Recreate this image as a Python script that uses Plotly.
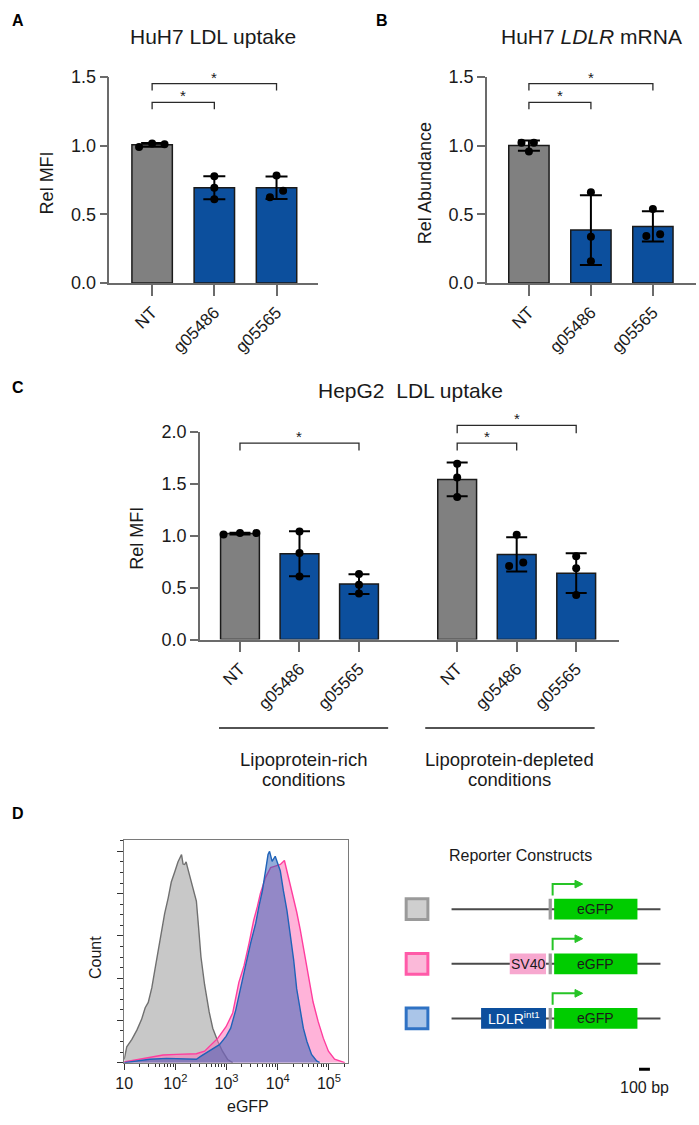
import numpy as np
import plotly.graph_objects as go

W, H = 699, 1125
FONT = "Liberation Sans, Arial, sans-serif"
TXT = "#1a1a1a"
AX = "#6b6b6b"
GRAY_BAR = "#808080"
BLUE_BAR = "#0c4f9d"

# ---------------- data ----------------
categories = ["NT", "g05486", "g05565"]

# Panel A: HuH7 LDL uptake (Rel MFI), replicate points
a_nt = [0.990, 1.015, 1.010]
a_g05486 = [0.776, 0.693, 0.609]
a_g05565 = [0.783, 0.671, 0.624]

# Panel B: HuH7 LDLR mRNA (Rel Abundance)
b_nt = [1.021, 1.021, 0.957]
b_g05486 = [0.660, 0.336, 0.159]
b_g05565 = [0.538, 0.343, 0.355]

# Panel C: HepG2 LDL uptake (Rel MFI)
c_rich_nt = [1.010, 1.025, 1.025]
c_rich_g05486 = [1.040, 0.833, 0.607]
c_rich_g05565 = [0.632, 0.528, 0.443]
c_dep_nt = [1.692, 1.560, 1.371]
c_dep_g05486 = [1.009, 0.708, 0.742]
c_dep_g05565 = [0.802, 0.686, 0.428]
c_groups = ["Lipoprotein-rich", "Lipoprotein-depleted"]

# Panel D: flow histograms, eGFP (log10) vs count (% of max)
gray_log = [1.00, 1.05, 1.15, 1.25, 1.34, 1.41, 1.47, 1.54, 1.60, 1.67, 1.73, 1.79, 1.86,
            1.92, 1.99, 2.05, 2.12, 2.15, 2.18, 2.21, 2.23, 2.31, 2.41, 2.45, 2.50, 2.57,
            2.66, 2.73, 2.83, 2.92, 3.02, 3.12]
gray_cnt = [1.5, 7.5, 11, 15.5, 20.5, 26, 28.5, 35.5, 44, 54, 63, 70.5, 78, 85.5, 90.5, 95,
            98.5, 94, 93.8, 95, 93, 86, 76.5, 65, 50, 37, 24, 16.3, 10, 5.4, 1.5, 0]
pink_log = [1.00, 1.50, 1.76, 2.02, 2.41, 2.57, 2.70, 2.83, 2.99, 3.12, 3.24, 3.34, 3.44,
            3.53, 3.60, 3.66, 3.76, 3.86, 3.95, 4.05, 4.13, 4.18, 4.24, 4.31, 4.37, 4.44,
            4.53, 4.63, 4.69, 4.79, 4.89, 4.99, 5.11, 5.31]
pink_cnt = [0.3, 2.3, 3.6, 3.9, 4.2, 5.4, 8.5, 11.6, 17, 23.5, 38, 45.8, 56.6, 67.4, 73.7,
            80, 87.6, 92.3, 93, 93.8, 95.7, 90.7, 84.5, 76.7, 71.3, 62.8, 50.4, 38, 28.7,
            19.4, 11.6, 5.4, 1.6, 0]
blue_log = [1.00, 1.50, 1.83, 2.15, 2.41, 2.50, 2.66, 2.86, 2.99, 3.08, 3.18, 3.28, 3.37,
            3.47, 3.57, 3.63, 3.70, 3.76, 3.81, 3.84, 3.89, 3.95, 4.01, 4.05, 4.11, 4.18,
            4.24, 4.31, 4.37, 4.44, 4.50, 4.57, 4.66, 4.76, 4.82]
blue_cnt = [0, 1.6, 2.0, 1.9, 1.6, 3.1, 5.4, 8.5, 12.4, 16.3, 25, 36.5, 45.8, 56.6, 66, 73.7,
            81.4, 90.7, 98.5, 100, 95.3, 97.7, 93, 90.7, 81.4, 72, 61.3, 48.8, 34.9, 24,
            16.3, 10, 3.9, 0.8, 0]
hist_ticks = [10, 100, 1000, 10000, 100000]
hist_ticktext = ["10", "10<sup>2</sup>", "10<sup>3</sup>", "10<sup>4</sup>", "10<sup>5</sup>"]

# Reporter constructs (bp)
construct_names = ["empty", "SV40", "LDLRint1"]
backbone_bp = [803, 2727]
egfp_bp = [1748, 2515]
tss_bp = [1697, 1727]
promoter_bp = [None, [1339, 1673], [1075, 1673]]
promoter_labels = [None, "SV40", "LDLR<sup>int1</sup>"]
scale_bp = [2530, 2630]

# ---------------- layout helpers ----------------
def xp(px):
    return px / W

def yp(py):
    return 1 - py / H

fig = go.Figure()

def bar_panel(xa, ya, xs, groups, colors, jit, width, capw):
    means = [float(np.mean(g)) for g in groups]
    sds = [float(np.std(g, ddof=1)) for g in groups]
    fig.add_trace(go.Bar(
        x=xs, y=means, width=width, xaxis=xa, yaxis=ya,
        marker=dict(color=colors, line=dict(color="#1a1a1a", width=1.5)),
        error_y=dict(type="data", array=sds, color="black", thickness=2, width=capw),
        hoverinfo="skip"))
    dx, dy = [], []
    for x, g, j in zip(xs, groups, jit):
        for v, o in zip(g, j):
            dx.append(x + o)
            dy.append(v)
    fig.add_trace(go.Scatter(x=dx, y=dy, mode="markers", xaxis=xa, yaxis=ya,
                             marker=dict(color="black", size=8), hoverinfo="skip",
                             cliponaxis=False))

a_jit = [[-0.21, 0.0, 0.2], [0, 0, 0], [0, 0.106, -0.106]]
b_jit = [[-0.12, 0.08, 0.0], [0, 0, 0], [0, -0.106, 0.117]]
c_jit = [[-0.276, 0, 0.276], [0, 0, 0], [0, 0, 0], [0, 0, 0], [0, -0.127, 0.11], [0, 0, 0]]
ab_pos = [0, 1, 2]
c_pos = [0, 1, 2, 3.65, 4.65, 5.65]
cols3 = [GRAY_BAR, BLUE_BAR, BLUE_BAR]

bar_panel("x", "y", ab_pos, [a_nt, a_g05486, a_g05565], cols3, a_jit, 0.65, 11)
bar_panel("x2", "y2", ab_pos, [b_nt, b_g05486, b_g05565], cols3, b_jit, 0.65, 11)
bar_panel("x3", "y3", c_pos,
          [c_rich_nt, c_rich_g05486, c_rich_g05565, c_dep_nt, c_dep_g05486, c_dep_g05565],
          cols3 + cols3, c_jit, 0.652, 10.5)

# registration traces for overlay/diagram axes
fig.add_trace(go.Scatter(x=[], y=[], xaxis="x4", yaxis="y4"))
fig.add_trace(go.Scatter(x=[], y=[], xaxis="x6", yaxis="y6"))

# histograms
for lg, cnt, fillc, linec in [
        (gray_log, gray_cnt, "rgba(200,200,200,1)", "#707070"),
        (pink_log, pink_cnt, "rgba(255,110,182,0.52)", "#ff3d9e"),
        (blue_log, blue_cnt, "rgba(48,96,182,0.52)", "#1f63b8")]:
    fig.add_trace(go.Scatter(x=[10 ** v for v in lg], y=cnt, xaxis="x5", yaxis="y5",
                             mode="lines", fill="tozeroy", fillcolor=fillc,
                             line=dict(color=linec, width=1.4), hoverinfo="skip"))

shapes = []
annotations = []

def ann(text, x, y, xref="paper", yref="paper", size=18, color=TXT, angle=0,
        xanchor="center", yanchor="middle", bold=False, yshift=0):
    annotations.append(dict(text=("<b>%s</b>" % text) if bold else text, x=x, y=y,
                            xref=xref, yref=yref, showarrow=False, textangle=angle,
                            xanchor=xanchor, yanchor=yanchor, yshift=yshift,
                            font=dict(family=FONT, size=size, color=color)))

def bracket(xref, yref, x0, x1, y, leg):
    shapes.append(dict(type="path", xref=xref, yref=yref,
                       path="M%f,%f L%f,%f L%f,%f L%f,%f" % (x0, y - leg, x0, y, x1, y, x1, y - leg),
                       line=dict(color="#2a2a2a", width=1.3)))
    ann("*", (x0 + x1) / 2, y, xref=xref, yref=yref, size=15, yanchor="bottom", yshift=-4)

# significance brackets
for xr, yr in [("x", "y"), ("x2", "y2")]:
    bracket(xr, yr, 0, 1, 1.314, 0.05)
    bracket(xr, yr, 0, 2, 1.45, 0.05)
bracket("x4", "y4", 0, 2, 1.89, 0.072)
bracket("x4", "y4", 3.65, 4.65, 1.89, 0.072)
bracket("x4", "y4", 3.65, 5.65, 2.06, 0.076)

# group lines + labels under C
for (g0, g1), name in zip([(-0.353, 2.49), (3.113, 5.96)], c_groups):
    shapes.append(dict(type="line", xref="x4", yref="y4", x0=g0, x1=g1, y0=-0.85, y1=-0.85,
                       line=dict(color="#1a1a1a", width=1.5)))
    ann(name, (g0 + g1) / 2, -1.15, xref="x4", yref="y4", size=18.5)
    ann("conditions", (g0 + g1) / 2, -1.345, xref="x4", yref="y4", size=18.5)

# titles, panel letters, axis titles
ann("HuH7 LDL uptake", xp(207), yp(27), size=21)
ann("HuH7 <i>LDLR</i> mRNA", xp(589.8), yp(27), size=21)
ann("HepG2\u00a0 LDL uptake", xp(406.7), yp(387), size=21)
ann("A", xp(9), yp(11), size=16, bold=True, color="black")
ann("B", xp(378), yp(11), size=16, bold=True, color="black")
ann("C", xp(9), yp(384), size=16, bold=True, color="black")
ann("D", xp(9), yp(818), size=16, bold=True, color="black")
ann("Rel MFI", xp(38), yp(176), size=18, angle=-90)
ann("Rel Abundance", xp(421.7), yp(176), size=18, angle=-90)
ann("Rel MFI", xp(130), yp(538), size=18, angle=-90)
ann("Count", xp(88.3), yp(965), size=16, angle=-90)
ann("eGFP", xp(242), yp(1116.7), size=16)

# reporter constructs diagram (x: bp, y: row)
ann("Reporter Constructs", 1439, -0.986, xref="x6", yref="y6", size=16)
sq_fill = ["#cfcfcf", "#fbb9d9", "#aac5e8"]
sq_line = ["#9a9a9a", "#ff5aa8", "#2f72c4"]
GREEN = "#00cc00"
ARROW = "#26c426"
for r in range(3):
    shapes.append(dict(type="rect", xref="x6", yref="y6", x0=385, x1=585, y0=r - 0.19, y1=r + 0.19,
                       fillcolor=sq_fill[r], line=dict(color=sq_line[r], width=3)))
    shapes.append(dict(type="line", xref="x6", yref="y6", x0=backbone_bp[0], x1=backbone_bp[1],
                       y0=r, y1=r, line=dict(color="#4a4a4a", width=2)))
    if promoter_bp[r] is not None:
        p0, p1 = promoter_bp[r]
        shapes.append(dict(type="rect", xref="x6", yref="y6", x0=p0, x1=p1, y0=r - 0.19, y1=r + 0.19,
                           fillcolor="#f7a8cf" if r == 1 else BLUE_BAR, line=dict(width=0)))
        ann(promoter_labels[r], (p0 + p1) / 2, r, xref="x6", yref="y6", size=14,
            color="#1a1a1a" if r == 1 else "white")
    shapes.append(dict(type="rect", xref="x6", yref="y6", x0=tss_bp[0], x1=tss_bp[1],
                       y0=r - 0.19, y1=r + 0.19, fillcolor="#9a9a9a", line=dict(width=0)))
    shapes.append(dict(type="rect", xref="x6", yref="y6", x0=egfp_bp[0], x1=egfp_bp[1],
                       y0=r - 0.19, y1=r + 0.19, fillcolor=GREEN, line=dict(width=0)))
    ann("eGFP", (egfp_bp[0] + egfp_bp[1]) / 2, r, xref="x6", yref="y6", size=14)
    # transcription start arrow
    ya = r - 0.46
    shapes.append(dict(type="path", xref="x6", yref="y6",
                       path="M1734,%f L1734,%f L1945,%f" % (r - 0.25, ya, ya),
                       line=dict(color=ARROW, width=2)))
    shapes.append(dict(type="path", xref="x6", yref="y6",
                       path="M1940,%f L2010,%f L1940,%f Z" % (ya - 0.07, ya, ya + 0.07),
                       fillcolor=ARROW, line=dict(color=ARROW, width=1)))
shapes.append(dict(type="line", xref="x6", yref="y6", x0=scale_bp[0], x1=scale_bp[1],
                   y0=2.928, y1=2.928, line=dict(color="black", width=3)))
ann("100 bp", (scale_bp[0] + scale_bp[1]) / 2, 3.259, xref="x6", yref="y6", size=16)

bar_x = dict(showline=True, linecolor=AX, linewidth=1.5, ticks="outside", ticklen=11,
             tickwidth=1.5, tickcolor=AX, tickangle=-45, showgrid=False, zeroline=False,
             tickfont=dict(family=FONT, size=17, color=TXT))
bar_y = dict(showline=True, linecolor=AX, linewidth=1.5, ticks="outside", ticklen=8,
             tickwidth=1.5, tickcolor=AX, showgrid=False, zeroline=False, tickformat=".1f",
             tickfont=dict(family=FONT, size=18, color=TXT))
hidden = dict(visible=False, showgrid=False, zeroline=False)

minor_x = [k * 10 ** d for d in range(1, 6) for k in range(2, 10) if k * 10 ** d < 10 ** 5.37]

fig.update_layout(
    width=W, height=H, margin=dict(l=0, r=0, t=0, b=0),
    paper_bgcolor="white", plot_bgcolor="rgba(0,0,0,0)", showlegend=False,
    font=dict(family=FONT, color=TXT),
    xaxis=dict(bar_x, domain=[xp(101.7), xp(313.3)], range=[-0.687, 2.671], anchor="y",
               tickvals=ab_pos, ticktext=categories),
    yaxis=dict(bar_y, domain=[yp(278), yp(68)], range=[0, 1.5], dtick=0.5, anchor="x"),
    xaxis2=dict(bar_x, domain=[xp(484), xp(696)], range=[-0.68, 2.696], anchor="y2",
                tickvals=ab_pos, ticktext=categories),
    yaxis2=dict(bar_y, domain=[yp(278), yp(68)], range=[0, 1.5], dtick=0.5, anchor="x2"),
    xaxis3=dict(bar_x, domain=[xp(193.3), xp(618)], range=[-0.675, 6.37], anchor="y3",
                tickvals=c_pos, ticktext=categories + categories),
    yaxis3=dict(bar_y, domain=[yp(641), yp(429.3)], range=[0, 2], dtick=0.5, anchor="x3"),
    xaxis4=dict(hidden, domain=[xp(193.3), xp(618)], range=[-0.675, 6.37], anchor="y4"),
    yaxis4=dict(hidden, domain=[yp(800), yp(405)],
                range=[(641 - 800) / 105.85, (641 - 405) / 105.85], anchor="x4"),
    xaxis5=dict(type="log", domain=[xp(116.7), xp(343.3)], range=[1, 5.37], anchor="y5",
                showline=True, mirror=True, linecolor="#7a7a7a", linewidth=1.2,
                ticks="outside", ticklen=6, tickwidth=1.3, tickcolor="#333",
                tickvals=hist_ticks, ticktext=hist_ticktext, showgrid=False, zeroline=False,
                tickfont=dict(family=FONT, size=16, color=TXT),
                minor=dict(tickmode="array", tickvals=minor_x, ticks="outside", ticklen=3.5,
                           tickwidth=1, tickcolor="#333", showgrid=False)),
    yaxis5=dict(domain=[yp(1071.7), yp(845)], range=[0, 105.4], anchor="x5",
                showline=True, mirror=True, linecolor="#7a7a7a", linewidth=1.2,
                ticks="outside", ticklen=6, tickwidth=1.3, tickcolor="#333",
                tickvals=[0, 20, 40, 60, 80, 100], showticklabels=False,
                showgrid=False, zeroline=False,
                minor=dict(dtick=5, ticks="outside", ticklen=3.5, tickwidth=1,
                           tickcolor="#333", showgrid=False)),
    xaxis6=dict(hidden, domain=[xp(360), 1.0], range=[0, 3082], anchor="y6"),
    yaxis6=dict(hidden, domain=[yp(1105), yp(860)], range=[3.408, -0.998], anchor="x6"),
    shapes=shapes, annotations=annotations,
)

fig.write_html("out.html")
